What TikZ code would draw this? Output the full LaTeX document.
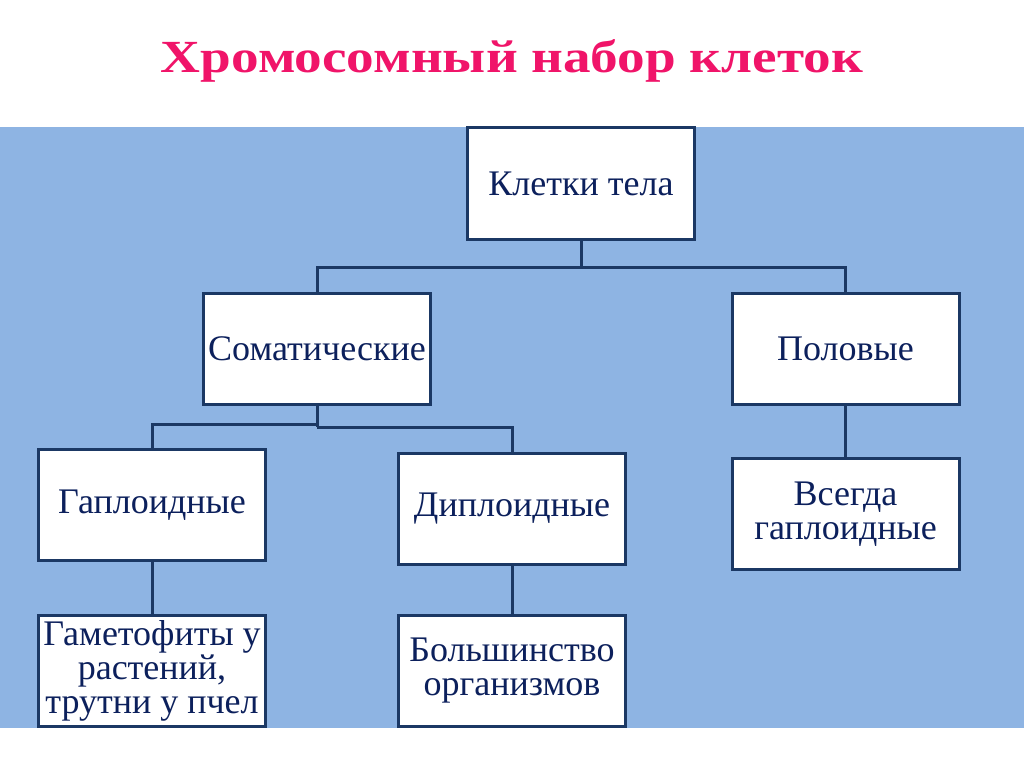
\documentclass[tikz,border=0pt]{standalone}
\usepackage{fontspec}
\setmainfont{Liberation Serif}
\newfontfamily\titlefont[FakeStretch=1.2]{Liberation Serif}
\definecolor{bgblue}{RGB}{142,180,227}
\definecolor{edge}{RGB}{27,56,100}
\definecolor{txt}{RGB}{12,32,92}
\definecolor{ttl}{RGB}{240,20,105}
\begin{document}
\begin{tikzpicture}[x=1pt,y=-1pt,
  box/.style={draw=edge,fill=white,line width=3pt,minimum width=227pt,minimum height=111pt,
    inner sep=2pt,align=center,text=txt,font=\fontsize{36}{34}\selectfont},
  link/.style={draw=edge,line width=3pt}]
\useasboundingbox (0,0) rectangle (1024,767);
\fill[white] (0,0) rectangle (1024,767);
\fill[bgblue] (0,127) rectangle (1024,728);
\node[text=ttl,font=\titlefont\fontsize{46}{46}\selectfont\bfseries] (title) at (512,61) {Хромосомный набор клеток};
\node[box] (top) at (581,183.5) {Клетки тела};
\node[box] (som) at (317,348.5) {Соматические};
\node[box] (pol) at (845.5,348.5) {Половые};
\node[box] (hap) at (152,505) {Гаплоидные};
\node[box] (dip) at (512,509) {Диплоидные};
\node[box] (vse) at (845.5,514) {Всегда\\гаплоидные};
\node[box] (gam) at (152,670.5) {Гаметофиты у\\растений,\\трутни у пчел};
\node[box] (bol) at (512,670.5) {Большинство\\организмов};
\coordinate (j1) at (581,267);
\coordinate (j2) at (317,424);
\coordinate (j3) at (317,427);
\draw[link] (top.south) -- (j1);
\draw[link] (som.north) |- (j1) -| (pol.north);
\draw[link] (som.south) -- (j3);
\draw[link] (j2) -| (hap.north);
\draw[link] (j3) -| (dip.north);
\draw[link] (hap.south) -- (gam.north);
\draw[link] (dip.south) -- (bol.north);
\draw[link] (pol.south) -- (vse.north);
\end{tikzpicture}
\end{document}
